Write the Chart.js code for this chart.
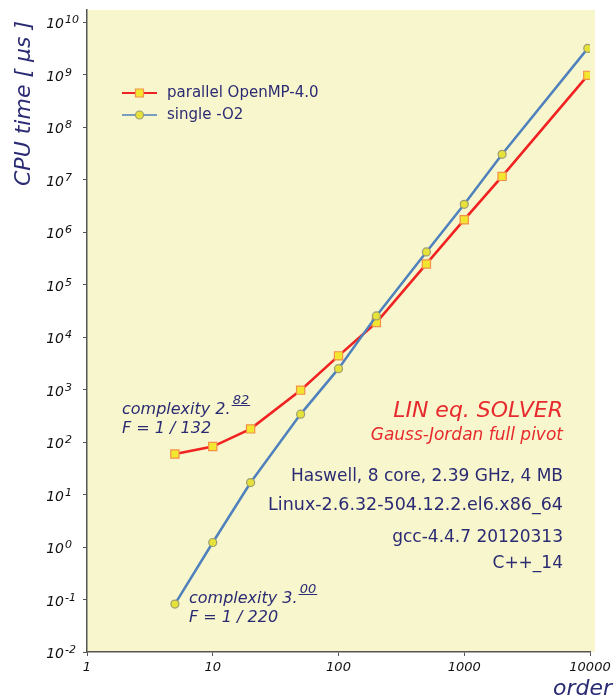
<!DOCTYPE html>
<html>
<head>
<meta charset="utf-8">
<script src="https://cdn.jsdelivr.net/npm/chart.js@4.4.0/dist/chart.umd.min.js"></script>
<style>
  html, body { margin: 0; padding: 0; background: #ffffff; }
  #wrap { width: 616px; height: 699px; position: relative; }
</style>
</head>
<body>
<div id="wrap"><canvas id="chart"></canvas></div>
<script>
// ===============================
// Data
// ===============================
const orders = [5, 10, 20, 50, 100, 200, 500, 1000, 2000, 9600];
const parallelTimes = [59, 82, 178, 973, 4380, 18900, 247000, 1720000, 11500000, 967000000];
const singleTimes = [0.082, 1.22, 16.9, 340, 2500, 25300, 418000, 3380000, 30300000, 3160000000];

const seriesNames = ["parallel OpenMP-4.0", "single -O2"];

const xTickValues = [1, 10, 100, 1000, 10000];
const xTickLabels = ["1", "10", "100", "1000", "10000"];
const yTickValues = [1e-2, 1e-1, 1e0, 1e1, 1e2, 1e3, 1e4, 1e5, 1e6, 1e7, 1e8, 1e9, 1e10];
// y labels are "10" with these exponents
const yTickExponents = ["-2", "-1", "0", "1", "2", "3", "4", "5", "6", "7", "8", "9", "10"];

// ===============================
// Styles
// ===============================
const FONT = "'DejaVu Sans', Verdana, sans-serif";
const NAVY = "#2b2b74";
const RED_TEXT = "#e62a2e";
const PLOT_BG = "#f8f6cc";
const AXIS = "#555555";

const RED_LINE = "#f02222";
const BLUE_LINE = "#4f81bd";
const SQ_FILL = "#f2e62e";
const SQ_BORDER = "#f4904a";
const CI_FILL = "#e6e23a";
const CI_BORDER = "#9c9c72";

// ===============================
// Plugins
// ===============================
const plotBackground = {
  id: "plotBackground",
  beforeDraw(chart) {
    const { ctx, chartArea: a } = chart;
    ctx.save();
    ctx.fillStyle = PLOT_BG;
    ctx.fillRect(a.left, a.top, a.right - a.left + 5, a.bottom - a.top);
    ctx.restore();
  }
};

// y tick labels with real superscripts, placed by the y scale
const powerLabels = {
  id: "powerLabels",
  afterDraw(chart) {
    const { ctx } = chart;
    const y = chart.scales.y;
    ctx.save();
    ctx.fillStyle = "#111111";
    ctx.textBaseline = "alphabetic";
    yTickValues.forEach((v, i) => {
      const py = y.getPixelForValue(v);
      ctx.font = "italic 14px " + FONT;
      ctx.textAlign = "right";
      ctx.fillText("10", 64, py + 6);
      ctx.font = "italic 11px " + FONT;
      ctx.textAlign = "left";
      ctx.fillText(yTickExponents[i], 65, py + 1);
    });
    ctx.restore();
  }
};

// text with an underlined superscript (complexity 2.82 etc)
function drawComplexity(ctx, x, y, base, sup, line2) {
  ctx.font = "italic 16px " + FONT;
  ctx.fillStyle = NAVY;
  ctx.textAlign = "left";
  ctx.textBaseline = "alphabetic";
  ctx.fillText(base, x, y);
  const w = ctx.measureText(base).width;
  ctx.font = "italic 13px " + FONT;
  ctx.fillText(sup, x + w + 2, y - 10);
  const sw = ctx.measureText(sup).width;
  ctx.strokeStyle = NAVY;
  ctx.lineWidth = 1;
  ctx.beginPath();
  ctx.moveTo(x + w + 1, y - 8.5);
  ctx.lineTo(x + w + sw + 3, y - 8.5);
  ctx.stroke();
  ctx.font = "italic 16px " + FONT;
  ctx.fillText(line2, x, y + 19);
}

const annotations = {
  id: "annotations",
  afterDraw(chart) {
    const { ctx } = chart;
    ctx.save();

    // axis titles
    ctx.fillStyle = NAVY;
    ctx.font = "italic 22px " + FONT;
    ctx.save();
    ctx.translate(30, 186);
    ctx.rotate(-Math.PI / 2);
    ctx.textAlign = "left";
    ctx.textBaseline = "alphabetic";
    ctx.fillText("CPU time [ \u03BCs ]", 0, 0);
    ctx.restore();

    ctx.textAlign = "right";
    ctx.textBaseline = "alphabetic";
    ctx.fillText("order", 612, 695);

    // legend
    const ds = chart.data.datasets;
    const rows = [93, 115];
    ds.forEach((d, i) => {
      const y = rows[i];
      ctx.strokeStyle = d.borderColor;
      ctx.lineWidth = i === 0 ? 2 : 1.5;
      ctx.beginPath();
      ctx.moveTo(122, y);
      ctx.lineTo(157, y);
      ctx.stroke();
      ctx.fillStyle = d.pointBackgroundColor;
      ctx.strokeStyle = d.pointBorderColor;
      ctx.lineWidth = 1.2;
      ctx.beginPath();
      if (d.pointStyle === "rect") {
        ctx.rect(135.5, y - 4, 8, 8);
      } else {
        ctx.arc(139.5, y, 4, 0, Math.PI * 2);
      }
      ctx.fill();
      ctx.stroke();
      ctx.fillStyle = NAVY;
      ctx.font = "15px " + FONT;
      ctx.textAlign = "left";
      ctx.textBaseline = "middle";
      ctx.fillText(d.label, 167, y);
    });

    // complexity notes
    drawComplexity(ctx, 122, 414, "complexity 2.", "82", "F = 1 / 132");
    drawComplexity(ctx, 189, 603, "complexity 3.", "00", "F = 1 / 220");

    // solver info
    ctx.textAlign = "right";
    ctx.textBaseline = "alphabetic";
    ctx.fillStyle = RED_TEXT;
    ctx.font = "italic 22px " + FONT;
    ctx.fillText("LIN eq. SOLVER", 563, 417);
    ctx.font = "italic 17px " + FONT;
    ctx.fillText("Gauss-Jordan full pivot", 563, 440);

    ctx.fillStyle = NAVY;
    ctx.font = "17px " + FONT;
    ctx.fillText("Haswell, 8 core, 2.39 GHz, 4 MB", 563, 481);
    ctx.font = "17.5px " + FONT;
    ctx.fillText("Linux-2.6.32-504.12.2.el6.x86_64", 563, 510);
    ctx.font = "17px " + FONT;
    ctx.fillText("gcc-4.4.7 20120313", 563, 542);
    ctx.fillText("C++_14", 563, 568);

    ctx.restore();
  }
};

// ===============================
// Chart
// ===============================
const ctx = document.getElementById("chart");
new Chart(ctx, {
  type: "line",
  data: {
    datasets: [
      {
        label: seriesNames[0],
        data: orders.map((x, i) => ({ x: x, y: parallelTimes[i] })),
        borderColor: RED_LINE,
        borderWidth: 2.6,
        pointStyle: "rect",
        pointRadius: 5.8,
        pointBackgroundColor: SQ_FILL,
        pointBorderColor: SQ_BORDER,
        pointBorderWidth: 1.2,
        tension: 0,
        order: 2
      },
      {
        label: seriesNames[1],
        data: orders.map((x, i) => ({ x: x, y: singleTimes[i] })),
        borderColor: BLUE_LINE,
        borderWidth: 2.5,
        pointStyle: "circle",
        pointRadius: 4,
        pointBackgroundColor: CI_FILL,
        pointBorderColor: CI_BORDER,
        pointBorderWidth: 1.2,
        tension: 0,
        order: 1
      }
    ]
  },
  options: {
    responsive: true,
    maintainAspectRatio: false,
    animation: false,
    layout: { padding: { top: 10, right: 26, bottom: 0, left: 0 } },
    plugins: {
      legend: { display: false },
      tooltip: { enabled: false }
    },
    scales: {
      x: {
        type: "logarithmic",
        min: 1,
        max: 10000,
        afterBuildTicks: s => { s.ticks = xTickValues.map(v => ({ value: v })); },
        afterFit: s => { s.height = 47; },
        grid: { drawOnChartArea: false, drawTicks: true, tickLength: 4, color: AXIS },
        border: { color: AXIS, width: 1.5 },
        ticks: {
          autoSkip: false,
          maxRotation: 0,
          padding: 4,
          color: "#111111",
          font: { family: FONT, size: 13, style: "italic" },
          callback: (v) => xTickLabels[xTickValues.indexOf(v)] ?? ""
        }
      },
      y: {
        type: "logarithmic",
        min: 0.01,
        max: 1.7e10,
        afterBuildTicks: s => { s.ticks = yTickValues.map(v => ({ value: v })); },
        afterFit: s => { s.width = 87; },
        grid: { drawOnChartArea: false, drawTicks: true, tickLength: 4, color: AXIS },
        border: { color: AXIS, width: 1.5 },
        ticks: { display: false }
      }
    }
  },
  plugins: [plotBackground, powerLabels, annotations]
});
</script>
</body>
</html>
